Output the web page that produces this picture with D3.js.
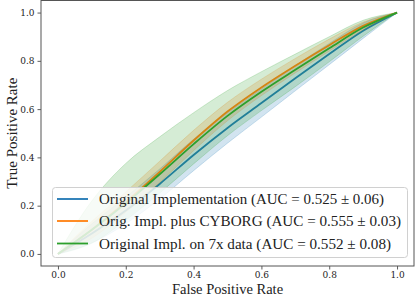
<!DOCTYPE html>
<html lang="en">
<head>
<meta charset="UTF-8">
<title>ROC curves</title>
<script src="https://cdn.jsdelivr.net/npm/d3@7"></script>
<style>
    body { margin: 0; background: #fff; }
    svg { display: block; font-family: "Liberation Serif", "DejaVu Serif", serif; }
</style>
</head>
<body>
<div id="chart"></div>
<script>
    // data
    const fprGrid = [0, 0.1, 0.2, 0.3, 0.4, 0.5, 0.6, 0.7, 0.8, 0.9, 1.0];

    const blueMean = [0, 0.085, 0.18, 0.29, 0.41, 0.522, 0.625, 0.728, 0.828, 0.925, 1];
    const blueUp   = [0, 0.04, 0.055, 0.062, 0.065, 0.063, 0.058, 0.052, 0.044, 0.032, 0];
    const blueDown = [0, 0.04, 0.055, 0.062, 0.065, 0.063, 0.058, 0.052, 0.044, 0.032, 0];

    const orangeMean = [0, 0.1, 0.215, 0.34, 0.47, 0.59, 0.69, 0.78, 0.865, 0.945, 1];
    const orangeUp   = [0, 0.035, 0.042, 0.044, 0.042, 0.038, 0.034, 0.03, 0.025, 0.016, 0];
    const orangeDown = [0, 0.035, 0.042, 0.044, 0.042, 0.038, 0.034, 0.03, 0.025, 0.016, 0];

    const greenMean = [0, 0.1, 0.21, 0.33, 0.455, 0.572, 0.672, 0.763, 0.852, 0.938, 1];
    const greenUp   = [0, 0.12, 0.165, 0.155, 0.13, 0.105, 0.083, 0.065, 0.048, 0.03, 0];
    const greenDown = [0, 0.055, 0.07, 0.078, 0.082, 0.082, 0.078, 0.07, 0.056, 0.036, 0];

    const seriesNames = [
        "Original Implementation (AUC = 0.525 \u00b1 0.06)",
        "Orig. Impl. plus CYBORG (AUC = 0.555 \u00b1 0.03)",
        "Original Impl. on 7x data (AUC = 0.552 \u00b1 0.08)"
    ];
    const seriesColors = ["#1f77b4", "#ff7f0e", "#2ca02c"];
    const tickValues = [0, 0.2, 0.4, 0.6, 0.8, 1.0];

    const series = [
        {mean: blueMean, up: blueUp, down: blueDown},
        {mean: orangeMean, up: orangeUp, down: orangeDown},
        {mean: greenMean, up: greenUp, down: greenDown}
    ];

    const width = 415, height = 297;
    const mLeft = 41, mRight = 414, mTop = 0.5, mBottom = 266;

    const x = d3.scaleLinear().domain([-0.05, 1.05]).range([mLeft, mRight]);
    const y = d3.scaleLinear().domain([-0.05, 1.05]).range([mBottom, mTop]);

    const svg = d3.select("#chart").append("svg")
        .attr("width", width)
        .attr("height", height)
        .attr("viewBox", [0, 0, width, height]);

    svg.append("clipPath").attr("id", "clip")
        .append("rect")
        .attr("x", mLeft).attr("y", mTop)
        .attr("width", mRight - mLeft).attr("height", mBottom - mTop);

    const plot = svg.append("g").attr("clip-path", "url(#clip)");

    const line = d3.line()
        .x((d, i) => x(fprGrid[i]))
        .y(d => y(d))
        .curve(d3.curveMonotoneX);

    const area = d3.area()
        .x(d => x(d.f))
        .y0(d => y(Math.max(d.m - d.lo, 0)))
        .y1(d => y(Math.min(d.m + d.hi, 1)))
        .curve(d3.curveMonotoneX);

    // each series: line first, then its band (as matplotlib would)
    series.forEach((s, k) => {
        plot.append("path")
            .attr("d", line(s.mean))
            .attr("fill", "none")
            .attr("stroke", seriesColors[k])
            .attr("stroke-width", 1.8);

        const pts = fprGrid.map((f, i) => ({f: f, m: s.mean[i], hi: s.up[i], lo: s.down[i]}));
        plot.append("path")
            .attr("d", area(pts))
            .attr("fill", seriesColors[k])
            .attr("fill-opacity", 0.2)
            .attr("stroke", seriesColors[k])
            .attr("stroke-opacity", 0.2)
            .attr("stroke-width", 1);
    });

    // axes
    const xAxis = svg.append("g")
        .attr("transform", `translate(0,${mBottom})`)
        .call(d3.axisBottom(x).tickValues(tickValues).tickFormat(d3.format(".1f")).tickSize(3.5).tickPadding(2));
    const yAxis = svg.append("g")
        .attr("transform", `translate(${mLeft},0)`)
        .call(d3.axisLeft(y).tickValues(tickValues).tickFormat(d3.format(".1f")).tickSize(3.5).tickPadding(3));

    [xAxis, yAxis].forEach(a => {
        a.select(".domain").remove();
        a.selectAll("line").attr("stroke", "#333").attr("stroke-width", 0.8);
        a.selectAll("text")
            .attr("fill", "#222")
            .style("font-family", "'DejaVu Serif', serif")
            .style("font-size", "9px");
    });

    // frame
    svg.append("rect")
        .attr("x", mLeft).attr("y", mTop)
        .attr("width", mRight - mLeft).attr("height", mBottom - mTop)
        .attr("fill", "none")
        .attr("stroke", "#555")
        .attr("stroke-width", 1);

    svg.append("text")
        .attr("x", (mLeft + mRight) / 2)
        .attr("y", 294)
        .attr("text-anchor", "middle")
        .style("font-size", "14.5px")
        .attr("fill", "#222")
        .text("False Positive Rate");

    svg.append("text")
        .attr("transform", `translate(17,${(mTop + mBottom) / 2}) rotate(-90)`)
        .attr("text-anchor", "middle")
        .style("font-size", "15px")
        .attr("fill", "#222")
        .text("True Positive Rate");

    // legend
    const legend = svg.append("g");
    legend.append("rect")
        .attr("x", 52.5).attr("y", 187.5)
        .attr("width", 355).attr("height", 70)
        .attr("rx", 3)
        .attr("fill", "#fff")
        .attr("fill-opacity", 0.8)
        .attr("stroke", "#d0d0d0")
        .attr("stroke-width", 1);

    const rowY = [199, 221, 243.5];
    const targetEnd = [384, 401, 391];
    seriesNames.forEach((name, k) => {
        legend.append("line")
            .attr("x1", 57).attr("x2", 88)
            .attr("y1", rowY[k]).attr("y2", rowY[k])
            .attr("stroke", seriesColors[k])
            .attr("stroke-width", 1.8);
        legend.append("text")
            .attr("x", 99)
            .attr("y", rowY[k] + 5)
            .style("font-size", "15px")
            .attr("fill", "#222")
            .attr("textLength", targetEnd[k] - 99)
            .attr("lengthAdjust", "spacingAndGlyphs")
            .text(name);
    });
</script>
</body>
</html>
